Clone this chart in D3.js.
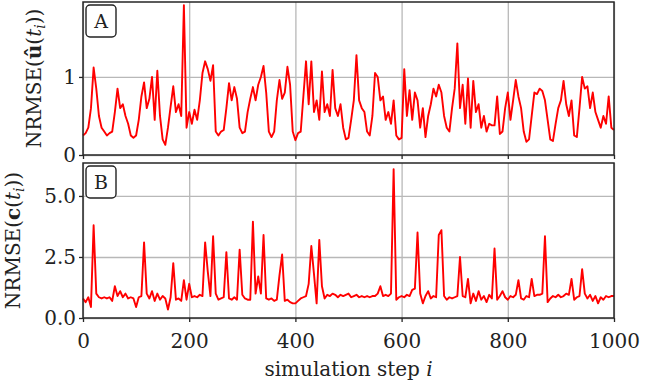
<!DOCTYPE html>
<html>
<head>
<meta charset="utf-8">
<script src="https://cdn.jsdelivr.net/npm/d3@7"></script>
<style>
  html, body { margin: 0; padding: 0; background: #fff; }
  svg { display: block; font-family: "DejaVu Serif", serif; }
</style>
</head>
<body>
<svg id="chart" width="645" height="388"></svg>
<script>
// simulation steps, sampled every 5 steps
const steps = d3.range(0, 1001, 5);

// panel A: NRMSE of u-hat
const errU = [
  0.25, 0.28, 0.35, 0.6, 1.12, 0.85, 0.5, 0.35, 0.3, 0.25,
  0.28, 0.3, 0.55, 0.85, 0.6, 0.65, 0.5, 0.4, 0.25, 0.22,
  0.25, 0.45, 0.75, 0.93, 0.6, 0.72, 1.0, 0.45, 1.08, 0.5,
  0.2, 0.13, 0.35, 0.62, 0.88, 0.55, 0.65, 0.5, 1.92, 0.35,
  0.55, 0.4, 0.58, 0.45, 0.7, 1.05, 1.2, 1.1, 0.95, 1.15,
  0.3, 0.25, 0.3, 0.32, 0.6, 0.92, 0.7, 0.87, 0.72, 0.35,
  0.28, 0.3, 0.55, 0.72, 0.87, 0.7, 0.9, 1.0, 1.14, 0.8,
  0.3, 0.23, 0.3, 0.7, 0.96, 0.72, 0.8, 1.13, 0.9, 0.3,
  0.19, 0.28, 0.3, 0.75, 1.2, 0.65, 1.2, 0.55, 0.7, 0.45,
  1.07, 0.55, 0.65, 0.5, 1.09, 0.6, 0.5, 0.65, 0.35, 0.2,
  0.22, 0.45, 0.7, 1.28, 0.7, 0.6, 0.55, 0.3, 0.25, 0.5,
  1.05, 1.0, 0.7, 0.75, 0.45, 0.55, 0.4, 0.7, 0.25, 0.2,
  0.22, 1.1, 0.5, 0.83, 0.45, 0.8, 0.7, 0.35, 0.6, 0.23,
  0.5, 0.65, 0.85, 0.75, 0.9, 0.8, 0.5, 0.35, 0.3, 0.6,
  0.85, 1.43, 0.6, 0.9, 0.4, 0.98, 0.35, 0.95, 0.55, 0.65,
  0.35, 0.5, 0.3, 0.4, 0.38, 0.38, 0.75, 0.27, 0.3, 0.6,
  0.8, 0.45, 0.7, 0.96, 0.75, 0.6, 0.3, 0.17, 0.2, 0.5,
  0.8, 0.78, 0.85, 0.82, 0.7, 0.45, 0.2, 0.18, 0.4, 0.6,
  0.7, 0.95, 0.65, 0.5, 0.7, 0.25, 0.23, 0.6, 1.0, 0.85,
  0.88, 0.6, 0.8, 0.55, 0.45, 0.35, 0.5, 0.4, 0.75, 0.35,
  0.32
];

// panel B: NRMSE of c
const errC = [
  0.8, 0.65, 0.85, 0.45, 3.8, 1.0, 0.85, 0.8, 0.85, 0.8,
  0.85, 0.7, 1.3, 0.9, 1.1, 0.85, 1.0, 0.8, 0.85, 0.8,
  0.45, 0.85, 0.9, 3.1, 1.0, 0.8, 1.1, 0.7, 1.0, 0.75,
  0.9, 0.8, 0.35, 0.85, 2.25, 0.75, 0.8, 0.7, 1.55, 0.75,
  1.4, 0.85, 0.9, 0.85, 0.95, 0.9, 3.1, 1.9, 0.9, 3.35,
  1.0, 0.75, 0.8, 0.85, 2.7, 0.8, 0.75, 0.85, 0.75, 2.8,
  0.95, 0.8, 0.75, 0.75, 3.95, 1.0, 1.7, 1.0, 3.4, 0.8,
  0.75, 0.8, 0.7, 0.75, 1.75, 2.6, 0.7, 0.75, 0.65, 0.6,
  0.6, 0.7, 0.8, 0.85, 0.9, 1.4, 2.95, 1.8, 0.6, 3.2,
  1.3, 0.8, 0.95, 0.9, 1.0, 0.95, 0.85, 0.95, 0.9, 0.95,
  1.0, 0.85, 0.9, 0.95, 0.85, 0.9, 0.85, 0.9, 0.85, 0.9,
  0.9, 1.0, 1.3, 0.9, 0.95, 0.9, 1.0, 6.1, 0.75, 0.85,
  0.9, 0.85, 0.95, 0.9, 1.15, 1.2, 3.5, 1.0, 0.6, 0.9,
  1.1, 0.8, 0.9, 0.85, 3.4, 3.6, 0.9, 0.75, 0.85, 0.8,
  0.85, 0.9, 2.5, 0.9, 0.85, 1.6, 0.6, 1.0, 0.7, 1.1,
  0.75, 0.9, 0.65, 0.95, 0.8, 2.85, 0.75, 0.9, 1.1, 0.85,
  0.75, 0.9, 0.85, 0.95, 1.55, 0.8, 0.75, 0.9, 0.85, 1.6,
  0.9, 0.95, 0.95, 1.0, 3.35, 0.65, 0.8, 0.9, 0.85, 0.95,
  0.85, 0.9, 1.0, 0.95, 1.6, 0.75, 0.85, 0.9, 2.0, 1.0,
  0.8, 0.95, 0.7, 0.9, 0.6, 0.85, 0.75, 0.9, 0.85, 0.9,
  0.9
];

const xTicks = [0, 200, 400, 600, 800, 1000];
const uTicks = [0, 1];
const cTicks = [0, 2.5, 5];

const left = 83, right = 614;
const panels = [
  { key: "A", data: errU, top: 2, bottom: 155, domain: [0, 1.96], ticks: uTicks, fmt: d3.format("d"), labelX: 41 },
  { key: "B", data: errC, top: 163, bottom: 318, domain: [0, 6.35], ticks: cTicks, fmt: d3.format(".1f"), labelX: 20 },
];

const svg = d3.select("#chart");
const x = d3.scaleLinear().domain([0, 1000]).range([left, right]);

const GRID = "#b8b8b8", SPINE = "#262626", FS = 20;

panels.forEach((p, pi) => {
  const y = d3.scaleLinear().domain(p.domain).range([p.bottom, p.top]);
  const g = svg.append("g").attr("class", "panel-" + p.key);

  // grid
  g.append("g").attr("transform", `translate(0,${p.bottom})`)
    .call(d3.axisBottom(x).tickValues(xTicks).tickSize(-(p.bottom - p.top)).tickFormat(""))
    .call((a) => a.select(".domain").remove())
    .selectAll("line").attr("stroke", GRID).attr("stroke-width", 1.3);
  g.append("g").attr("transform", `translate(${left},0)`)
    .call(d3.axisLeft(y).tickValues(p.ticks).tickSize(-(right - left)).tickFormat(""))
    .call((a) => a.select(".domain").remove())
    .selectAll("line").attr("stroke", GRID).attr("stroke-width", 1.3);

  // line
  const line = d3.line().x((d, i) => x(steps[i])).y((d) => y(d));
  g.append("path")
    .datum(p.data)
    .attr("d", line)
    .attr("fill", "none")
    .attr("stroke", "#ff0000")
    .attr("stroke-width", 1.9)
    .attr("stroke-linejoin", "round");

  // frame
  g.append("rect")
    .attr("x", left).attr("y", p.top)
    .attr("width", right - left).attr("height", p.bottom - p.top)
    .attr("fill", "none").attr("stroke", SPINE).attr("stroke-width", 1.5);

  // axes
  const ax = g.append("g").attr("transform", `translate(0,${p.bottom})`)
    .call(d3.axisBottom(x).tickValues(xTicks).tickSize(4).tickSizeOuter(0)
      .tickFormat(pi === 1 ? d3.format("d") : ""));
  ax.select(".domain").remove();
  ax.selectAll("line").attr("stroke", SPINE).attr("stroke-width", 1.3);
  ax.selectAll("text").attr("fill", "#222").attr("font-size", FS)
    .attr("font-family", "DejaVu Serif").attr("y", 30).attr("dy", 0);

  const ay = g.append("g").attr("transform", `translate(${left},0)`)
    .call(d3.axisLeft(y).tickValues(p.ticks).tickSize(4).tickSizeOuter(0).tickFormat(p.fmt));
  ay.select(".domain").remove();
  ay.selectAll("line").attr("stroke", SPINE).attr("stroke-width", 1.3);
  ay.selectAll("text").attr("fill", "#222").attr("font-size", FS)
    .attr("font-family", "DejaVu Serif");

  // panel tag
  const tag = g.append("g").attr("transform", `translate(${left + 3},${p.top + 3})`);
  tag.append("rect").attr("width", 30).attr("height", 32).attr("rx", 4)
    .attr("fill", "#fff").attr("stroke", "#222").attr("stroke-width", 1.4);
  tag.append("text").attr("x", 15).attr("y", 23).attr("text-anchor", "middle")
    .attr("font-size", 19).attr("fill", "#222").text(p.key);

  // y label
  const lab = g.append("text")
    .attr("transform", `translate(${p.labelX},${(p.top + p.bottom) / 2}) rotate(-90)`)
    .attr("text-anchor", "middle").attr("font-size", FS).attr("fill", "#222");
  lab.append("tspan").text("NRMSE(");
  lab.append("tspan").attr("font-weight", "bold").text(p.key === "A" ? "û" : "c");
  lab.append("tspan").text("(");
  lab.append("tspan").attr("font-style", "italic").text("t");
  lab.append("tspan").attr("font-style", "italic").attr("font-size", FS * 0.7).attr("dy", 4).text("i");
  lab.append("tspan").attr("dy", -4).text("))");
});

// x label
const xl = svg.append("text")
  .attr("x", (left + right) / 2).attr("y", 376)
  .attr("text-anchor", "middle").attr("font-size", FS).attr("fill", "#222");
xl.append("tspan").text("simulation step ");
xl.append("tspan").attr("font-style", "italic").text("i");
</script>
</body>
</html>
